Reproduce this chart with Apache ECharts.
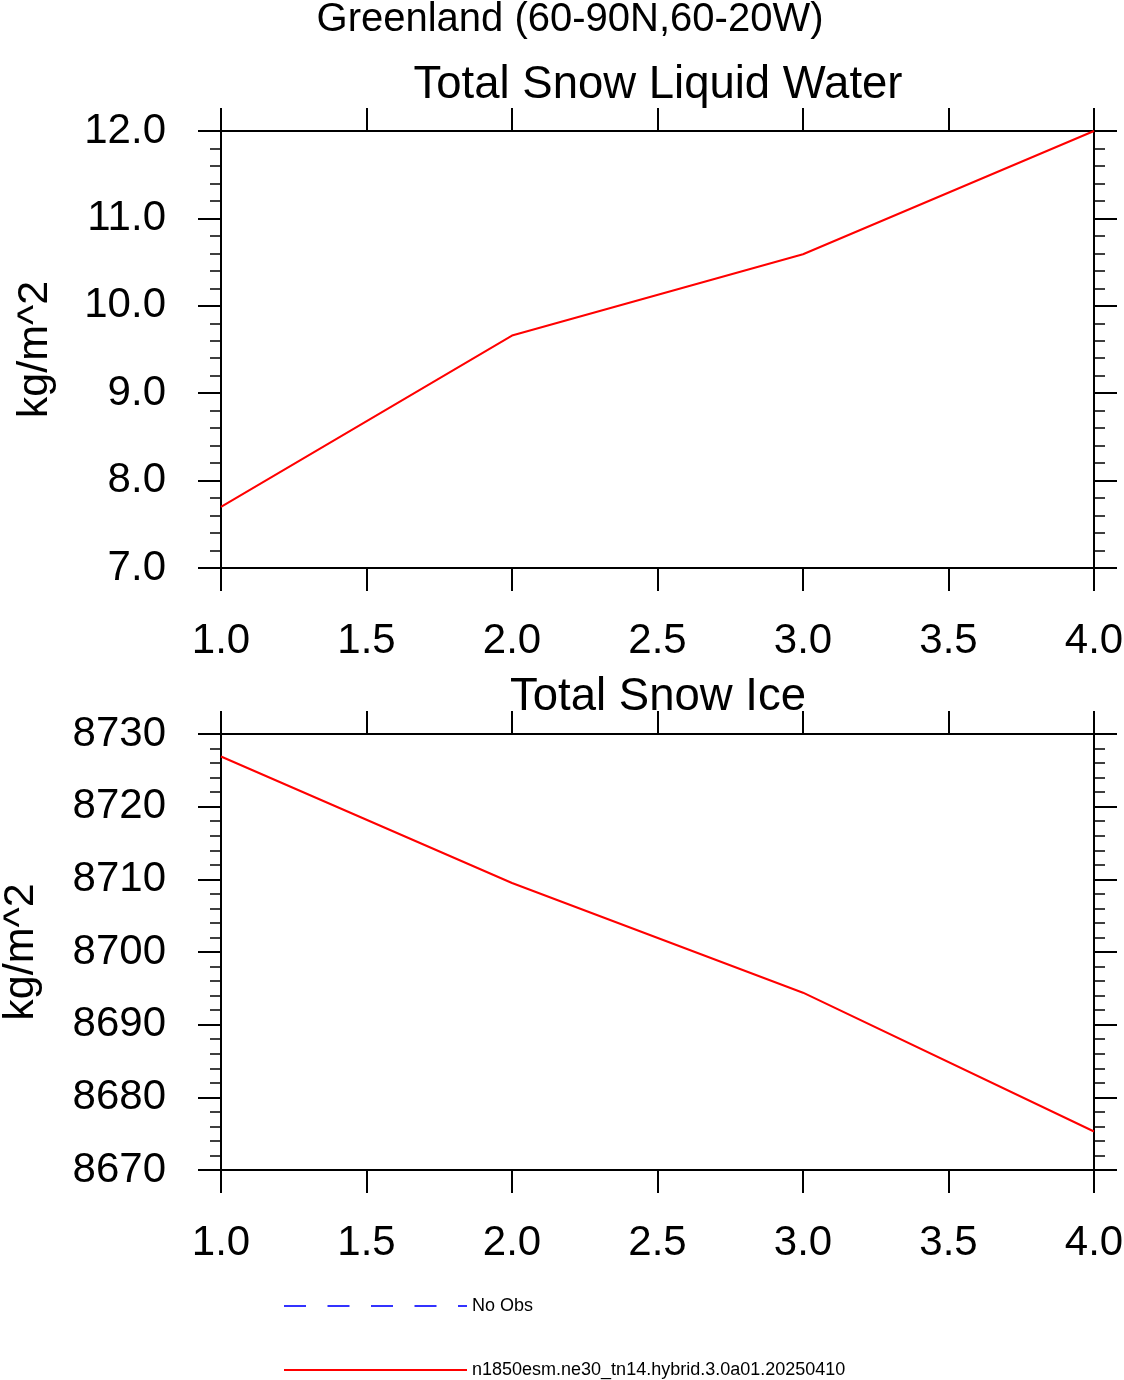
<!DOCTYPE html>
<html>
<head>
<meta charset="utf-8">
<title>Greenland snow</title>
<script src="https://cdn.jsdelivr.net/npm/echarts@6/dist/echarts.min.js"></script>
<style>
  html, body { margin: 0; padding: 0; background: #fff; }
  #main { width: 1124px; height: 1380px; }
</style>
</head>
<body>
<div id="main"></div>
<script>
// years (x) and the two panel series
const years = [1, 2, 3, 4];
const liquidWater = [7.70, 9.66, 10.59, 12.0];
const snowIce = [8726.9, 8709.5, 8694.4, 8675.3];
const obsData = [];

const mainTitle = 'Greenland (60-90N,60-20W)';
const panelTitles = ['Total Snow Liquid Water', 'Total Snow Ice'];
const unitName = 'kg/m^2';
const modelName = 'n1850esm.ne30_tn14.hybrid.3.0a01.20250410';
const obsName = 'No Obs';

const FONT = '"Liberation Sans", Arial, Helvetica, sans-serif';

let chart = echarts.init(document.getElementById('main'));

// shared look for the NCL style frame
function xAxisFor(grid, pos) {
    return {
        type: 'value',
        gridIndex: grid,
        position: pos,
        min: 1,
        max: 4,
        interval: 0.5,
        axisLine: { show: true, onZero: false, lineStyle: { color: '#000', width: 2 } },
        axisTick: { show: true, inside: false, length: 23, lineStyle: { color: '#000', width: 2 } },
        axisLabel: {
            show: pos === 'bottom',
            fontFamily: FONT,
            fontSize: 42,
            lineHeight: 42,
            color: '#000',
            margin: 52,
            formatter: function (v) { return v.toFixed(1); }
        },
        splitLine: { show: false }
    };
}

function yAxisFor(grid, pos, min, max, step, digits, gap) {
    return {
        type: 'value',
        gridIndex: grid,
        position: pos,
        min: min,
        max: max,
        interval: step,
        name: pos === 'left' ? unitName : '',
        nameLocation: 'middle',
        nameGap: gap,
        nameRotate: 90,
        nameTextStyle: { fontFamily: FONT, fontSize: 43, color: '#000' },
        axisLine: { show: true, onZero: false, lineStyle: { color: '#000', width: 2 } },
        axisTick: { show: true, inside: false, length: 23, lineStyle: { color: '#000', width: 2 } },
        minorTick: { show: true, splitNumber: 5, length: 11, lineStyle: { color: '#000', width: 1.5 } },
        axisLabel: {
            show: pos === 'left',
            fontFamily: FONT,
            fontSize: 42,
            lineHeight: 46,
            color: '#000',
            margin: 55,
            formatter: function (v) { return v.toFixed(digits); }
        },
        splitLine: { show: false },
        minorSplitLine: { show: false }
    };
}

function legendFor(name, top) {
    return {
        orient: 'horizontal',
        left: 283,
        top: top,
        padding: 0,
        itemWidth: 183,
        itemHeight: 14,
        itemStyle: { opacity: 0 },
        textStyle: { fontFamily: FONT, fontSize: 18, color: '#000' },
        data: [name]
    };
}

let option = {
    backgroundColor: '#fff',
    animation: false,
    title: [{
        text: mainTitle,
        left: 570,
        top: 0,
        padding: 0,
        textAlign: 'center',
        textStyle: { fontFamily: FONT, fontSize: 40, fontWeight: 'normal', color: '#000' }
    }, {
        text: panelTitles[0],
        left: 658,
        top: 62,
        padding: 0,
        textAlign: 'center',
        textStyle: { fontFamily: FONT, fontSize: 45.5, fontWeight: 'normal', color: '#000' }
    }, {
        text: panelTitles[1],
        left: 658,
        top: 674,
        padding: 0,
        textAlign: 'center',
        textStyle: { fontFamily: FONT, fontSize: 45.5, fontWeight: 'normal', color: '#000' }
    }],
    grid: [
        { left: 221, right: 30, top: 131, bottom: 812, containLabel: false, outerBoundsMode: 'none' },
        { left: 221, right: 30, top: 734, bottom: 210, containLabel: false, outerBoundsMode: 'none' }
    ],
    xAxis: [
        xAxisFor(0, 'bottom'),
        xAxisFor(0, 'top'),
        xAxisFor(1, 'bottom'),
        xAxisFor(1, 'top')
    ],
    yAxis: [
        yAxisFor(0, 'left', 7, 12, 1, 1, 164),
        yAxisFor(0, 'right', 7, 12, 1, 1, 0),
        yAxisFor(1, 'left', 8670, 8730, 10, 0, 178),
        yAxisFor(1, 'right', 8670, 8730, 10, 0, 0)
    ],
    legend: [
        legendFor(obsName, 1297),
        legendFor(modelName, 1361)
    ],
    series: [{
        name: obsName,
        type: 'line',
        xAxisIndex: 0,
        yAxisIndex: 0,
        symbol: 'none',
        lineStyle: { color: '#3333ff', width: 1.5, type: [22, 21.5] },
        itemStyle: { color: '#3333ff' },
        data: obsData
    }, {
        name: modelName,
        type: 'line',
        xAxisIndex: 0,
        yAxisIndex: 0,
        symbol: 'none',
        lineStyle: { color: '#ff0000', width: 2 },
        itemStyle: { color: '#ff0000' },
        data: years.map(function (x, i) { return [x, liquidWater[i]]; })
    }, {
        name: modelName,
        type: 'line',
        xAxisIndex: 2,
        yAxisIndex: 2,
        symbol: 'none',
        lineStyle: { color: '#ff0000', width: 2 },
        itemStyle: { color: '#ff0000' },
        data: years.map(function (x, i) { return [x, snowIce[i]]; })
    }]
};

chart.setOption(option, true);
</script>
</body>
</html>
